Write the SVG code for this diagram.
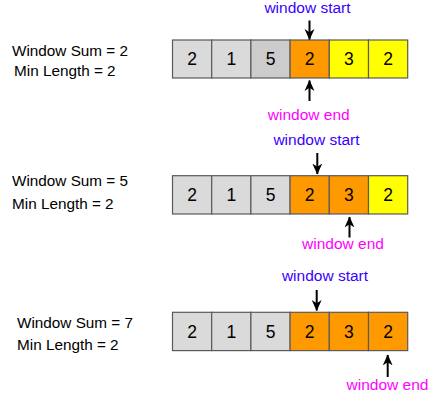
<svg xmlns="http://www.w3.org/2000/svg" width="448" height="408" viewBox="0 0 448 408">
<style>
.cell{stroke:#5a5a5a;stroke-width:1.2}
.g{fill:#dadada}
.g2{fill:#cccccc}
.o{fill:#ff9900}
.y{fill:#ffff00}
.num{font-family:"Liberation Sans",Arial,sans-serif;font-size:17.5px;fill:#000;text-anchor:middle}
.lbl{font-family:"Liberation Sans",Arial,sans-serif;font-size:15.3px;fill:#000}
.st{font-family:"Liberation Sans",Arial,sans-serif;font-size:15.5px;fill:#3a00ff;text-anchor:middle}
.en{font-family:"Liberation Sans",Arial,sans-serif;font-size:15.5px;fill:#ff00ff;text-anchor:middle}
.arr{stroke:#000;stroke-width:2;fill:none;marker-end:url(#ah)}
</style>
<defs>
<marker id="ah" viewBox="0 0 10 10" refX="9.5" refY="5" markerWidth="11" markerHeight="11" markerUnits="userSpaceOnUse" orient="auto">
<path d="M0,0.5 L10,5 L0,9.5 L3,5 z" fill="#000"/>
</marker>
</defs>
<rect width="448" height="408" fill="#fff"/>

<g id="row1">
<text class="lbl" x="12" y="56">Window Sum = 2</text>
<text class="lbl" x="14" y="75.5">Min Length = 2</text>
<g id="r1c0"><rect class="cell g" x="172.5" y="40" width="39.2" height="38"/><text class="num" x="192.1" y="65">2</text></g>
<g id="r1c1"><rect class="cell g" x="211.7" y="40" width="39.2" height="38"/><text class="num" x="231.3" y="65">1</text></g>
<g id="r1c2"><rect class="cell g2" x="250.9" y="40" width="39.2" height="38"/><text class="num" x="270.5" y="65">5</text></g>
<g id="r1c3"><rect class="cell o" x="290.1" y="40" width="39.2" height="38"/><text class="num" x="309.7" y="65">2</text></g>
<g id="r1c4"><rect class="cell y" x="329.3" y="40" width="39.2" height="38"/><text class="num" x="348.9" y="65">3</text></g>
<g id="r1c5"><rect class="cell y" x="368.5" y="40" width="39.2" height="38"/><text class="num" x="388.1" y="65">2</text></g>
<text class="st" x="307.5" y="13">window start</text>
<text class="en" x="308.7" y="119.5">window end</text>
</g>

<g id="row2">
<text class="lbl" x="12" y="186">Window Sum = 5</text>
<text class="lbl" x="12" y="209.3">Min Length = 2</text>
<g id="r2c0"><rect class="cell g" x="172.5" y="175.7" width="39.2" height="38.3"/><text class="num" x="192.1" y="201">2</text></g>
<g id="r2c1"><rect class="cell g" x="211.7" y="175.7" width="39.2" height="38.3"/><text class="num" x="231.3" y="201">1</text></g>
<g id="r2c2"><rect class="cell g" x="250.9" y="175.7" width="39.2" height="38.3"/><text class="num" x="270.5" y="201">5</text></g>
<g id="r2c3"><rect class="cell o" x="290.1" y="175.7" width="39.2" height="38.3"/><text class="num" x="309.7" y="201">2</text></g>
<g id="r2c4"><rect class="cell o" x="329.3" y="175.7" width="39.2" height="38.3"/><text class="num" x="348.9" y="201">3</text></g>
<g id="r2c5"><rect class="cell y" x="368.5" y="175.7" width="39.2" height="38.3"/><text class="num" x="388.1" y="201">2</text></g>
<text class="st" x="316.5" y="145">window start</text>
<text class="en" x="343" y="249">window end</text>
</g>

<g id="row3">
<text class="lbl" x="17" y="327.7">Window Sum = 7</text>
<text class="lbl" x="17" y="350">Min Length = 2</text>
<g id="r3c0"><rect class="cell g" x="172.5" y="312.3" width="39.2" height="38.3"/><text class="num" x="192.1" y="337.6">2</text></g>
<g id="r3c1"><rect class="cell g" x="211.7" y="312.3" width="39.2" height="38.3"/><text class="num" x="231.3" y="337.6">1</text></g>
<g id="r3c2"><rect class="cell g" x="250.9" y="312.3" width="39.2" height="38.3"/><text class="num" x="270.5" y="337.6">5</text></g>
<g id="r3c3"><rect class="cell o" x="290.1" y="312.3" width="39.2" height="38.3"/><text class="num" x="309.7" y="337.6">2</text></g>
<g id="r3c4"><rect class="cell o" x="329.3" y="312.3" width="39.2" height="38.3"/><text class="num" x="348.9" y="337.6">3</text></g>
<g id="r3c5"><rect class="cell o" x="368.5" y="312.3" width="39.2" height="38.3"/><text class="num" x="388.1" y="337.6">2</text></g>
<text class="st" x="325" y="281">window start</text>
<text class="en" x="387.5" y="390">window end</text>
</g>

<g id="connectors">
<line class="arr" x1="309.5" y1="20.5" x2="309.5" y2="39.5"/>
<line class="arr" x1="309.5" y1="101" x2="309.5" y2="80.5"/>
<line class="arr" x1="317.3" y1="153" x2="317.3" y2="174"/>
<line class="arr" x1="349.5" y1="237.5" x2="349.5" y2="217"/>
<line class="arr" x1="316.7" y1="290" x2="316.7" y2="310.5"/>
<line class="arr" x1="387.7" y1="377" x2="387.7" y2="355"/>
</g>
</svg>
